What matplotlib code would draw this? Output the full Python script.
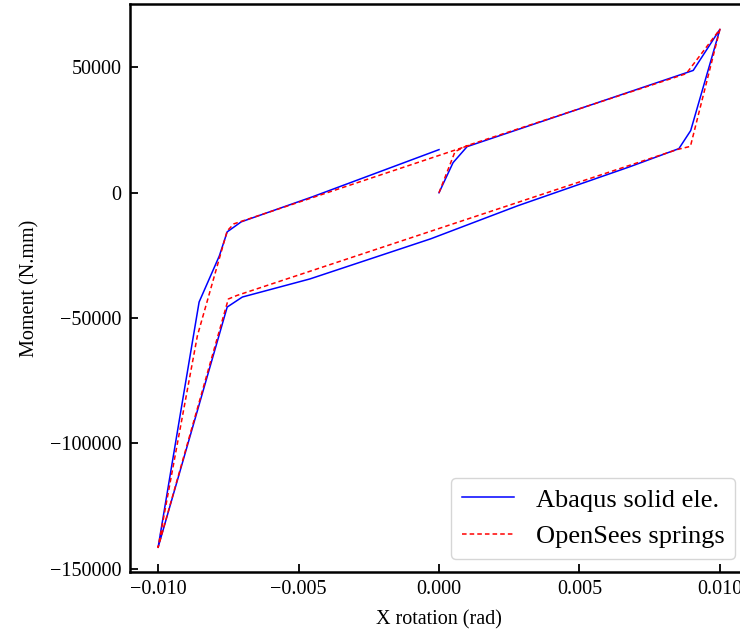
import matplotlib
matplotlib.use("Agg")
import matplotlib.pyplot as plt

# Abaqus solid element response
abaqus_rot = [0.0, 0.0005, 0.001, 0.005, 0.00905, 0.01, 0.00896, 0.00854,
              0.0068, 0.0028, -0.0003, -0.0046, -0.0070, -0.00754, -0.01,
              -0.0091, -0.00854, -0.00782, -0.00754, -0.00704, -0.0045, 0.0]
abaqus_mom = [0, 12000, 18400, 33500, 48800, 65200, 24800, 17600,
              10400, -5200, -18400, -34400, -41600, -45600, -141500,
              -81000, -43600, -25200, -15600, -11600, -1600, 17200]

# OpenSees spring model response
opensees_rot = [0.0, 0.00057, 0.001, 0.0088, 0.01, 0.00895, 0.0085,
                -0.0072, -0.0075, -0.01, -0.0086, -0.00754, -0.0073, 0.0011]
opensees_mom = [0, 16400, 18800, 47500, 65200, 18500, 17300,
                -41000, -42400, -141500, -57000, -15200, -12400, 19000]

xticks = [-0.010, -0.005, 0.0, 0.005, 0.010]
yticks = [-150000, -100000, -50000, 0, 50000]

plt.rcParams["font.family"] = ["Liberation Serif", "DejaVu Serif"]

fig = plt.figure(figsize=(7.4, 6.34), dpi=100)
ax = fig.add_axes([130 / 740, 62 / 634, 618 / 740, 568 / 634])

ax.plot(abaqus_rot, abaqus_mom, color="blue", lw=1.1, label="Abaqus solid ele.")
ax.plot(opensees_rot, opensees_mom, color="red", lw=1.1, ls="--",
        dashes=(3, 2), label="OpenSees springs")

ax.set_xlim(-0.011, 0.011)
ax.set_ylim(-151300, 75300)
ax.set_xticks(xticks)
ax.set_yticks(yticks)
ax.tick_params(direction="in", length=6, width=1.3, labelsize=14.5, pad=6)
for sp in ax.spines.values():
    sp.set_linewidth(1.8)

ax.set_xlabel("X rotation (rad)", fontsize=14.5, labelpad=8)
ax.set_ylabel("Moment (N.mm)", fontsize=14.5, labelpad=8)

ax.legend(loc="lower right", fontsize=19)

fig.savefig("out.png", dpi=100)
